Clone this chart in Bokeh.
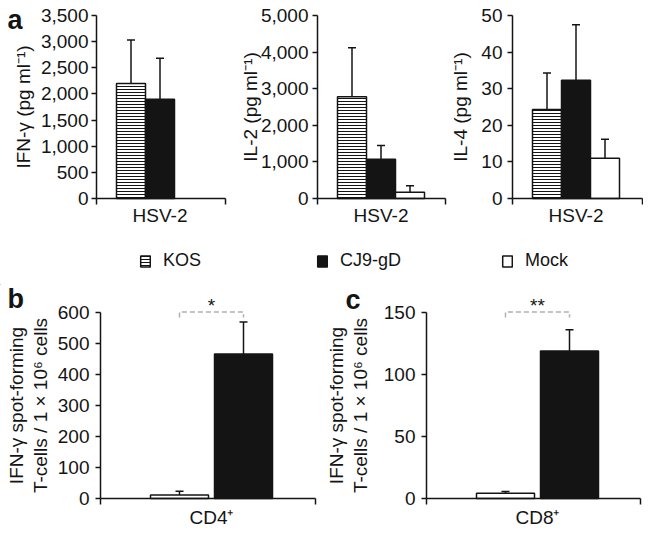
from bokeh.plotting import figure
from bokeh.models import (Range1d, FixedTicker, NumeralTickFormatter, ColumnDataSource,
                          Whisker, TeeHead, Legend, LegendItem, Label)
from bokeh.layouts import column, row
from bokeh.embed import file_html
from bokeh.resources import INLINE
from bokeh.core.properties import value

FONT = "Liberation Sans"
INK = "#141414"

# ---------------- data ----------------
groups = ["KOS", "CJ9-gD", "Mock"]
group_fill = {"KOS": "white", "CJ9-gD": "#141414", "Mock": "white"}
group_hatch = {"KOS": "horizontal_line", "CJ9-gD": "blank", "Mock": "blank"}

top_category = "HSV-2"
ifn_mean = [2200, 1900, None]
ifn_sd = [830, 780, None]
il2_mean = [2780, 1070, 170]
il2_sd = [1340, 380, 180]
il4_mean = [24.3, 32.3, 11.0]
il4_sd = [10.0, 15.2, 5.2]
ifn_ticks = [0, 500, 1000, 1500, 2000, 2500, 3000, 3500]
il2_ticks = [0, 1000, 2000, 3000, 4000, 5000]
il4_ticks = [0, 10, 20, 30, 40, 50]

elispot_groups = ["Mock", "CJ9-gD"]
cd4_mean = [11, 466]
cd4_sd = [12, 103]
cd8_mean = [4.3, 119]
cd8_sd = [1.4, 17]
cd4_ticks = [0, 100, 200, 300, 400, 500, 600]
cd8_ticks = [0, 50, 100, 150]
cd4_sig = "*"
cd8_sig = "**"

ifn_label = "IFN-\u03b3 (pg ml\u207b\u00b9)"
il2_label = "IL-2 (pg ml\u207b\u00b9)"
il4_label = "IL-4 (pg ml\u207b\u00b9)"
spot_label = "IFN-\u03b3 spot-forming\nT-cells / 1 \u00d7 10\u2076 cells"
cd4_cat = "CD4\u207a"
cd8_cat = "CD8\u207a"


def make_fig(w, h, left, top, pw, ph, xa, xb, ya, yb):
    """Figure whose frame fills the canvas; the axes are pinned around the data box
    [xa, xb] x [ya, yb], which sits at (left, top) with size pw x ph pixels."""
    sx = (xb - xa) / pw
    sy = (yb - ya) / ph
    p = figure(frame_width=w, frame_height=h, min_border=0,
               x_range=Range1d(xa - left * sx, xa + (w - left) * sx),
               y_range=Range1d(ya - (h - top - ph) * sy, yb + top * sy),
               output_backend="svg", toolbar_location=None)
    p.xgrid.visible = False
    p.ygrid.visible = False
    p.outline_line_color = None
    p.background_fill_color = "white"
    p.border_fill_color = "white"
    p.xaxis.fixed_location = ya
    p.yaxis.fixed_location = xa
    p.xaxis.bounds = (xa, xb)
    p.yaxis.bounds = (ya, yb)
    for ax in (p.xaxis[0], p.yaxis[0]):
        ax.axis_line_width = 1.5
        ax.axis_line_color = INK
        ax.major_tick_line_width = 1.5
        ax.major_tick_line_color = INK
        ax.minor_tick_line_width = 1.5
        ax.minor_tick_line_color = INK
        ax.major_tick_in = 0
        ax.minor_tick_in = 0
        ax.major_label_text_font = FONT
        ax.major_label_text_font_size = "19px"
        ax.major_label_text_color = INK
        ax.axis_label_text_font = FONT
        ax.axis_label_text_font_size = "19px"
        ax.axis_label_text_font_style = "normal"
        ax.axis_label_text_color = INK
    return p


def add_letter(p, letter, x, y, dx, dy):
    p.add_layout(Label(x=x, y=y, x_offset=dx, y_offset=dy, text=letter,
                       text_font=FONT, text_font_style="bold", text_font_size="27px",
                       text_color=INK, text_baseline="alphabetic", text_align="left"))


BAR_PX = 29


def top_panel(means, sds, ticks, ylabel, w, left, pw, title_standoff, lab_standoff, letter=None):
    n = len(groups)
    xs = list(range(1, n + 1))
    x0 = 0.5 - 20 / BAR_PX
    x1 = x0 + pw / BAR_PX
    p = make_fig(w, 235, left, 15, pw, 183, x0, x1, 0, ticks[-1])
    keep = [i for i in range(n) if means[i] is not None]
    src = ColumnDataSource(dict(
        x=[xs[i] for i in keep],
        top=[means[i] for i in keep],
        upper=[means[i] + sds[i] for i in keep],
        fill=[group_fill[groups[i]] for i in keep],
        hatch=[group_hatch[groups[i]] for i in keep],
    ))
    p.add_layout(Whisker(base="x", lower="top", upper="upper", source=src, dimension="height",
                         line_color=INK, line_width=1.5, lower_head=None,
                         upper_head=TeeHead(size=8, line_color=INK, line_width=1.5),
                         level="underlay"))
    p.vbar(x="x", top="top", width=1.0, source=src, fill_color="fill",
           hatch_pattern="hatch", hatch_color=INK, hatch_scale=3, hatch_weight=1,
           line_color=INK, line_width=1.5)
    center = (xs[0] + xs[-1]) / 2
    p.xaxis.ticker = FixedTicker(ticks=[center], minor_ticks=[x0, x1])
    p.xaxis.major_label_overrides = {center: top_category}
    p.xaxis.major_tick_out = 0
    p.xaxis.minor_tick_out = 6
    p.xaxis.major_tick_line_color = None
    p.xaxis.major_label_standoff = 0
    p.yaxis.ticker = FixedTicker(ticks=ticks)
    p.yaxis.formatter = NumeralTickFormatter(format="0,0")
    p.yaxis.major_tick_out = 5
    p.yaxis.major_label_standoff = lab_standoff
    p.yaxis.axis_label = ylabel
    p.yaxis.axis_label_standoff = title_standoff
    if letter:
        add_letter(p, letter, x0, ticks[-1], -89, -4)
    return p


CELL_PX = 64


def cell_panel(means, sds, ticks, cat, sig, w, left, pw, letter, letter_dx, letter_dy,
               lab_standoff, title_standoff):
    xs = list(range(1, len(elispot_groups) + 1))
    x0 = 1 - 79 / CELL_PX
    x1 = x0 + pw / CELL_PX
    ymax = ticks[-1]
    p = make_fig(w, 244, left, 27, pw, 186, x0, x1, 0, ymax)
    p.yaxis.axis_label_text_line_height = 1.15
    src = ColumnDataSource(dict(
        x=xs, top=means, upper=[m + s for m, s in zip(means, sds)],
        fill=[group_fill[g] for g in elispot_groups],
    ))
    p.add_layout(Whisker(base="x", lower="top", upper="upper", source=src, dimension="height",
                         line_color=INK, line_width=1.5, lower_head=None,
                         upper_head=TeeHead(size=8, line_color=INK, line_width=1.5),
                         level="underlay"))
    p.vbar(x="x", top="top", width=58 / CELL_PX, source=src, fill_color="fill",
           line_color=INK, line_width=1.5)
    # significance bracket
    yb = ymax * 1.003
    drop = ymax * 0.03
    p.line(x=[xs[0], xs[0], xs[1], xs[1]], y=[yb - drop, yb, yb, yb - drop],
           line_color="#b0b0b0", line_width=1.5, line_dash="5 3")
    p.text(x=[(xs[0] + xs[1]) / 2], y=[yb], text=[sig], text_align="center",
           text_baseline="alphabetic", y_offset=-6, text_font=value(FONT),
           text_font_size="19px", text_color=INK)
    center = (xs[0] + xs[-1]) / 2
    p.xaxis.ticker = FixedTicker(ticks=[center], minor_ticks=[x0, x1])
    p.xaxis.major_label_overrides = {center: cat}
    p.xaxis.major_tick_out = 0
    p.xaxis.minor_tick_out = 6
    p.xaxis.major_tick_line_color = None
    p.xaxis.major_label_standoff = 2
    p.yaxis.ticker = FixedTicker(ticks=ticks)
    p.yaxis.major_tick_out = 5
    p.yaxis.major_label_standoff = lab_standoff
    p.yaxis.axis_label = spot_label
    p.yaxis.axis_label_standoff = title_standoff
    add_letter(p, letter, x0, ymax, letter_dx, letter_dy)
    return p


pa1 = top_panel(ifn_mean, ifn_sd, ifn_ticks, ifn_label, 232, 96, 129, 4, 3, letter="a")
pa2 = top_panel(il2_mean, il2_sd, il2_ticks, il2_label, 215, 85, 128, -3, 4)
pa3 = top_panel(il4_mean, il4_sd, il4_ticks, il4_label, 196, 65, 130, 7, 5)

# ---------------- legend strip ----------------
leg = figure(width=643, height=50, x_range=Range1d(0, 1), y_range=Range1d(0, 1),
             min_border=0, output_backend="svg", toolbar_location=None)
leg.axis.visible = False
leg.xgrid.visible = False
leg.ygrid.visible = False
leg.outline_line_color = None
legend_x = [139, 316, 501]
proxy = ColumnDataSource(dict(x=[-5], top=[-5]))  # proxies kept outside the visible range
for g, lx in zip(groups, legend_x):
    r = leg.vbar(x="x", top="top", width=0.1, source=proxy, fill_color=group_fill[g],
                 hatch_pattern=group_hatch[g], hatch_color=INK, hatch_scale=3, hatch_weight=1,
                 line_color=INK, line_width=1.5)
    lg = Legend(items=[LegendItem(label=g, renderers=[r])], location=(lx, 14),
                orientation="horizontal", border_line_color=None, background_fill_alpha=0,
                padding=0, margin=0, spacing=0, glyph_width=12, glyph_height=14,
                label_standoff=12, label_text_font=FONT, label_text_font_size="18px",
                label_text_color=INK)
    leg.add_layout(lg)

pb = cell_panel(cd4_mean, cd4_sd, cd4_ticks, cd4_cat, cd4_sig, 323, 100, 215, "b", -93, 14, 6, 4)
pc = cell_panel(cd8_mean, cd8_sd, cd8_ticks, cd8_cat, cd8_sig, 320, 103, 214, "c", -81, 13, 6, 10)

layout = column(row(pa1, pa2, pa3, spacing=0), leg, row(pb, pc, spacing=0), spacing=0)

with open("out.html", "w") as f:
    f.write(file_html(layout, INLINE))
